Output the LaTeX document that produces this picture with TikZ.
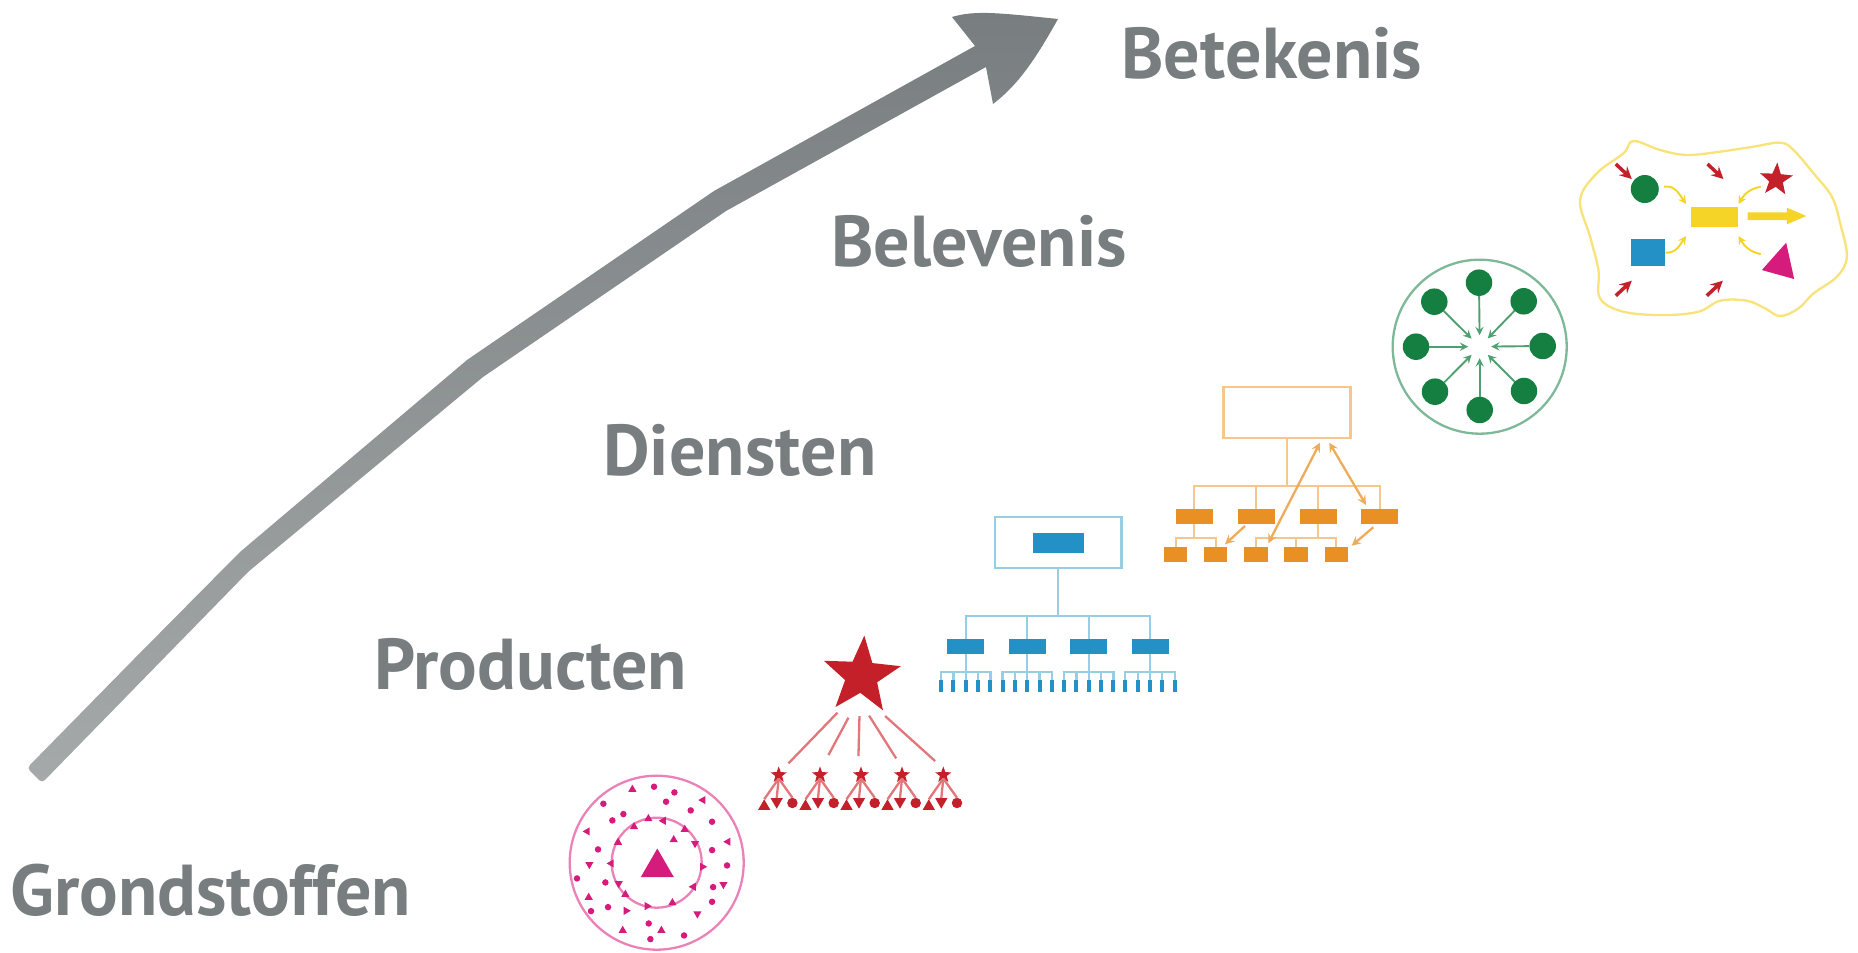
\documentclass[tikz,border=0pt]{standalone}
\usepackage{fontspec}
\setmainfont{PT Sans}
\usetikzlibrary{shapes.geometric}

\definecolor{labelgray}{HTML}{787D80}
\definecolor{arrowlight}{HTML}{A5A9A9}
\definecolor{pinkfill}{HTML}{D51B7B}
\definecolor{pinkline}{HTML}{EA82B8}
\definecolor{redfill}{HTML}{C4202A}
\definecolor{redline}{HTML}{E2767B}
\definecolor{bluefill}{HTML}{2391C6}
\definecolor{blueline}{HTML}{98CDE6}
\definecolor{orangefill}{HTML}{E89023}
\definecolor{orangeline}{HTML}{F5C78F}
\definecolor{greenfill}{HTML}{157F41}
\definecolor{greenline}{HTML}{7DB998}
\definecolor{yellowfill}{HTML}{F5D327}
\definecolor{yellowline}{HTML}{F8E27A}

\tikzset{
  levellabel/.style={anchor=base west,inner sep=0,text=labelgray,font=\fontsize{41}{41}\selectfont\bfseries},
  block/.style={rectangle,inner sep=0,outer sep=0,draw=none},
  dot/.style={circle,inner sep=0,outer sep=0,draw=none},
  tri/.style={regular polygon,regular polygon sides=3,inner sep=0,outer sep=0,draw=none},
  starnode/.style={star,star points=5,star point ratio=2.4,inner sep=0,outer sep=0,draw=none},
  wire/.style={line width=.46mm},
  midblock/.style={block,minimum width=7.4mm,minimum height=3mm},
  lowblock/.style={block,fill=orangefill,minimum width=4.7mm,minimum height=2.9mm},
  tinydot/.style={dot,fill=pinkfill,minimum size=1.3mm},
  tinytri/.style={tri,fill=pinkfill,minimum size=1.9mm},
  spoke/.style={dot,fill=greenfill,minimum size=5.3mm},
}

\begin{document}
\begin{tikzpicture}[x=.2mm,y=-.2mm,>=stealth]
  \useasboundingbox (0,0) rectangle (1858,953);

  \shade[top color=labelgray,bottom color=arrowlight] (133,660) -- (240,552) -- (467,360) -- (714,191)
    -- (975,46) -- (952,17) .. controls (975,10) and (1000,13) .. (1058,19)
    .. controls (1035,60) and (1018,85) .. (993,104) -- (986,67) -- (726,211) -- (483,377)
    -- (248,572) [rounded corners=.8mm] -- (42,783) -- (27,768) -- cycle;

  \node[levellabel] (betekenis) at (1121,79) {Betekenis};
  \node[levellabel] (belevenis) at (831,267) {Belevenis};
  \node[levellabel] (diensten) at (603,476) {Diensten};
  \node[levellabel] (producten) at (374,690) {Producten};
  \node[levellabel] (grondstoffen) at (10,915) {Grondstoffen};

  % grondstoffen
  \node[dot,draw=pinkline,line width=.46mm,minimum size=34.8mm] (pinkouter) at (656.7,862.7) {};
  \node[dot,draw=pinkline,line width=.46mm,minimum size=18mm] (pinkinner) at (656.7,862.7) {};
  \node[tri,fill=pinkfill,minimum size=7.6mm] (pinktri) at (657.3,867.5) {};
  \begin{scope}[shift={(540,620)},x=.0667mm,y=-.0667mm]
    \foreach \X/\Y [count=\i] in {342/500,403/517,378/545,190/551,250/582,217/601,452/571,516/605,516/690,174/688,561/736,196/787,111/775,519/801,516/845,204/861,153/873,326/910,331/957,432/946}
      \node[tinydot] (pinkdot\i) at (\X,\Y) {};
    \foreach \X/\Y/\R [count=\i] in {277/508/0,489/540/90,142/634/90,564/665/90,148/733/180,401/659/0,550/793/180,146/832/0,258/872/270,472/881/180,248/931/0,364/931/0,325/596/0,370/602/90,282/620/0,434/628/0,465/670/180,234/667/0,214/730/90,487/740/270,236/790/180,460/800/90,256/823/0,397/848/0,321/858/270}
      \node[tinytri,shape border rotate=\R] (pinktri\i) at (\X,\Y) {};
  \end{scope}

  % producten
  \node[starnode,fill=redfill,minimum size=16.2mm,shape border rotate=-4] (bigstar) at (861.5,676) {};
  \begin{scope}[shift={(540,620)},x=.0667mm,y=-.0667mm]
    \foreach \i/\xa/\ya/\xb/\yb in {1/892/278/745/430,2/925/293/865/405,3/958/288/955/408,4/987/287/1068/415,5/1035/288/1185/423} {
      \coordinate (raystart\i) at (\xa,\ya);
      \coordinate (rayend\i) at (\xb,\yb);
      \draw[wire,redline] (raystart\i) -- (rayend\i);
    }
  \end{scope}
  \foreach \i/\x in {1/778.7,2/820,3/861,4/902,5/943.3} {
    \node[starnode,fill=redfill,minimum size=3.4mm] (smallstar\i) at (\x,775) {};
    \node[tri,fill=redfill,minimum size=2.85mm] (redup\i) at (\x-14.5,806.4) {};
    \node[tri,fill=redfill,minimum size=2.85mm,shape border rotate=180] (reddown\i) at (\x-2,801.6) {};
    \node[dot,fill=redfill,minimum size=2.1mm] (reddot\i) at (\x+13.7,803) {};
    \draw[wire,redline] (smallstar\i.south) -- (redup\i.north);
    \draw[wire,redline] (smallstar\i.south) -- (reddown\i.north);
    \draw[wire,redline] (smallstar\i.south) -- (reddot\i.north);
  }

  % diensten, blauw
  \node[block,draw=blueline,line width=.46mm,minimum width=25.3mm,minimum height=10.3mm] (bluetop) at (1058.3,542.5) {};
  \node[block,fill=bluefill,minimum width=10.3mm,minimum height=4.1mm] (bluecore) at (1058.3,543) {};
  \coordinate (bluebus) at (1058.3,615.7);
  \draw[wire,blueline] (bluetop.south) -- (bluebus);
  \foreach \i/\x in {1/965.7,2/1027.3,3/1088.7,4/1150} {
    \node[midblock,fill=bluefill] (bluemid\i) at (\x,646.7) {};
    \draw[wire,blueline] (bluemid\i.north) |- (bluebus);
    \path (bluemid\i.south) ++(0,17.5) coordinate (bluesub\i);
    \draw[wire,blueline] (bluemid\i.south) -- (bluesub\i);
    \foreach \j/\d in {1/-24.7,2/-12.3,3/0,4/12.3,5/24.7} {
      \node[block,fill=bluefill,minimum width=.8mm,minimum height=2.3mm] (blueleaf\i\j) at (\x+\d,685.8) {};
      \draw[wire,blueline] (blueleaf\i\j.north) |- (bluesub\i);
    }
  }

  % diensten, oranje
  \node[block,draw=orangeline,line width=.46mm,minimum width=25.4mm,minimum height=10.3mm] (orangetop) at (1287,412.5) {};
  \coordinate (orangebus) at (1287,486);
  \draw[wire,orangeline] (orangetop.south) -- (orangebus);
  \foreach \i/\x in {1/1194,2/1256,3/1318,4/1379.7} {
    \node[midblock,fill=orangefill] (orangemid\i) at (\x,517) {};
    \draw[wire,orangeline] (orangemid\i.north) |- (orangebus);
  }
  \foreach \i/\x in {1/1175.7,2/1215.7,3/1256,4/1296,5/1336.3}
    \node[lowblock] (orangelow\i) at (\x,554.3) {};
  \path (orangemid1.south) ++(0,13.8) coordinate (orangesubA);
  \path (orangemid3.south) ++(0,13.8) coordinate (orangesubB);
  \draw[wire,orangeline] (orangemid1.south) -- (orangesubA);
  \draw[wire,orangeline] (orangemid3.south) -- (orangesubB);
  \draw[wire,orangeline] (orangelow1.north) |- (orangesubA);
  \draw[wire,orangeline] (orangelow2.north) |- (orangesubA);
  \draw[wire,orangeline] (orangelow3.north) |- (orangesubB);
  \draw[wire,orangeline] (orangelow4.north) |- (orangesubB);
  \draw[wire,orangeline] (orangelow5.north) |- (orangesubB);
  \coordinate (upa) at (1320,442.7);
  \coordinate (upb) at (1329.3,442.7);
  \coordinate (starta) at (1268.3,543.3);
  \coordinate (startb) at (1366,505);
  \coordinate (enda) at (1245,526);
  \coordinate (endb) at (1373.3,527.3);
  \coordinate (tipa) at (1225,544.3);
  \coordinate (tipb) at (1351.7,545.7);
  \draw[<->,wire,orangefill!75!white] (starta) -- (upa);
  \draw[<->,wire,orangefill!75!white] (startb) -- (upb);
  \draw[->,wire,orangefill!75!white] (enda) -- (tipa);
  \draw[->,wire,orangefill!75!white] (endb) -- (tipb);

  % belevenis
  \node[dot,draw=greenline,line width=.46mm,minimum size=34.8mm] (greenring) at (1479.7,346.7) {};
  \node[dot,minimum size=4.6mm] (greenhub) at (1479.7,346.7) {};
  \foreach \i/\x/\y in {1/1479/282.7,2/1434.3/301.7,3/1523.7/301.3,4/1416/346.7,5/1542.7/346,6/1435/391.7,7/1524/391,8/1479.7/410} {
    \node[spoke] (spoke\i) at (\x,\y) {};
    \draw[->,line width=.38mm,greenfill!75!white] (spoke\i) -- (greenhub);
  }

  % betekenis
  \begin{scope}[shift={(1370,130)},x=.0667mm,y=-.0667mm]
    \draw[wire,yellowline] plot[smooth cycle,tension=.6] coordinates {(790,33) (870,60) (950,75) (1050,65) (1150,50) (1230,38) (1270,60) (1330,130) (1385,200) (1410,280) (1430,380) (1400,440) (1330,490) (1285,535) (1230,558) (1185,535) (1130,512) (1050,512) (985,545) (880,555) (760,545) (690,505) (685,420) (660,320) (630,210) (680,130) (760,70)};
    \node[dot,fill=greenfill,minimum size=5.6mm] (mixcircle) at (824,177) {};
    \node[block,fill=bluefill,minimum width=6.9mm,minimum height=5.3mm] (mixsquare) at (834,368) {};
    \node[block,fill=yellowfill,minimum width=9.5mm,minimum height=3.9mm] (mixcore) at (1033,261) {};
    \node[starnode,fill=redfill,minimum size=6.9mm,shape border rotate=-4] (mixstar) at (1218,149) {};
    \fill[pinkfill] (1248,338) -- (1175,420) -- (1272,447) -- cycle;
    \fill[yellowfill] (1132,247) -- (1250,247) -- (1250,233) -- (1308,258) -- (1250,283) -- (1250,270) -- (1132,270) -- cycle;
    \coordinate (cornera) at (948,222);
    \coordinate (cornerb) at (948,318);
    \coordinate (cornerc) at (1105,222);
    \coordinate (cornerd) at (1105,318);
    \draw[->,line width=.38mm,yellowfill] (mixcircle) ++(58,-7) coordinate (curvea) to[out=10,in=125] (cornera);
    \draw[->,line width=.38mm,yellowfill] (mixsquare.east) to[out=-5,in=235] (cornerb);
    \draw[->,line width=.38mm,yellowfill] (mixstar) ++(-46,21) coordinate (curvec) to[out=190,in=60] (cornerc);
    \coordinate (curved) at (1172,372);
    \draw[->,line width=.38mm,yellowfill] (curved) to[out=170,in=-60] (cornerd);
    \foreach \i/\xa/\ya/\xb/\yb in {1/737/102/785/147,2/1012/102/1060/147,3/737/497/785/452,4/1010/497/1058/452} {
      \coordinate (mixfrom\i) at (\xa,\ya);
      \coordinate (mixto\i) at (\xb,\yb);
      \draw[->,line width=.7mm,redfill] (mixfrom\i) -- (mixto\i);
    }
  \end{scope}
\end{tikzpicture}
\end{document}
